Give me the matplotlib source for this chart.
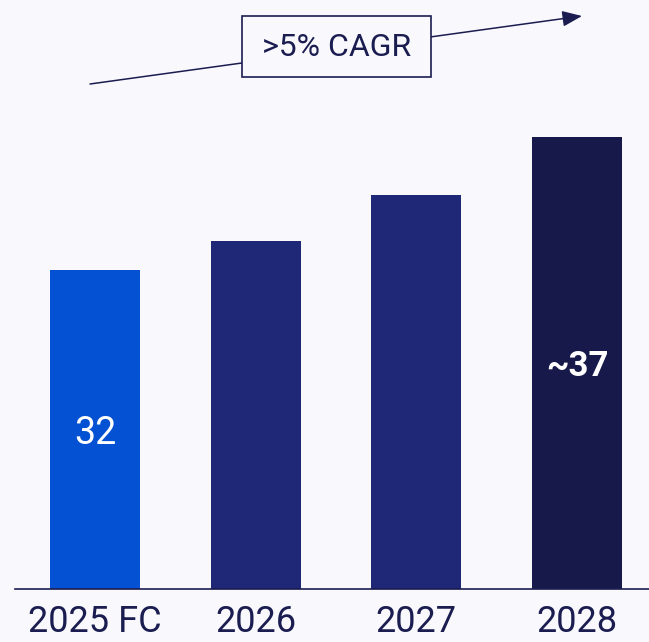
import matplotlib
matplotlib.use("Agg")
import matplotlib.pyplot as plt
from matplotlib.patches import Rectangle, FancyArrowPatch

# Data
categories = ["2025 FC", "2026", "2027", "2028"]
values = [32, 33.1, 34.8, 37]
value_labels = ["32", None, None, "~37"]
cagr_label = ">5% CAGR"

# Styling
bg = "#f9f9fd"
ink = "#1b1d50"
bar_colors = ["#0451d3", "#1e2877", "#1e2877", "#17194b"]
label_weights = ["normal", None, None, "bold"]
label_sizes = [27, None, None, 25]

plt.rcParams["font.family"] = ["Roboto", "DejaVu Sans"]

W, H, DPI = 649, 642, 100
fig = plt.figure(figsize=(W / DPI, H / DPI), dpi=DPI, facecolor=bg)

# axes spans from the left baseline start to the right edge, baseline at y=589 px
ax_left, ax_base = 15, 589
ax = fig.add_axes([ax_left / W, (H - ax_base) / H, (W - ax_left) / W, ax_base / H])
ax.set_facecolor(bg)

y_min = 20
px_per_unit = 26.6
ax.set_ylim(y_min, y_min + ax_base / px_per_unit)
ax.set_xlim(-0.498, 3.448)

x = range(len(categories))
ax.bar(x, values, width=0.56, color=bar_colors, zorder=2)

for i, (v, lab) in enumerate(zip(values, value_labels)):
    if lab:
        ax.text(i, y_min + (v - y_min) / 2 - 0.15, lab, ha="center", va="center",
                color="white", fontsize=label_sizes[i],
                fontweight=label_weights[i], zorder=3)

ax.set_xticks(list(x))
ax.set_xticklabels(categories, fontsize=26, color=ink)
ax.tick_params(axis="x", length=0, pad=11)
ax.set_yticks([])
for side in ["left", "right", "top"]:
    ax.spines[side].set_visible(False)
ax.spines["bottom"].set_color(ink)
ax.spines["bottom"].set_linewidth(1.2)

# growth arrow with CAGR box (figure pixel coordinates)
arrow = FancyArrowPatch((90, H - 84), (582, H - 16),
                        transform=None,
                        arrowstyle="-|>,head_length=12,head_width=4.8",
                        mutation_scale=1, color=ink, linewidth=1.1,
                        shrinkA=0, shrinkB=0, zorder=5)
fig.add_artist(arrow)

box = Rectangle((242, H - 77), 189, 61, transform=None,
                facecolor=bg, edgecolor=ink, linewidth=1.2, zorder=6)
fig.add_artist(box)
fig.text(336.5 / W, (H - 48) / H, cagr_label, ha="center", va="center",
         fontsize=23, color=ink, zorder=7)

fig.savefig("out.png", dpi=DPI, facecolor=bg)
